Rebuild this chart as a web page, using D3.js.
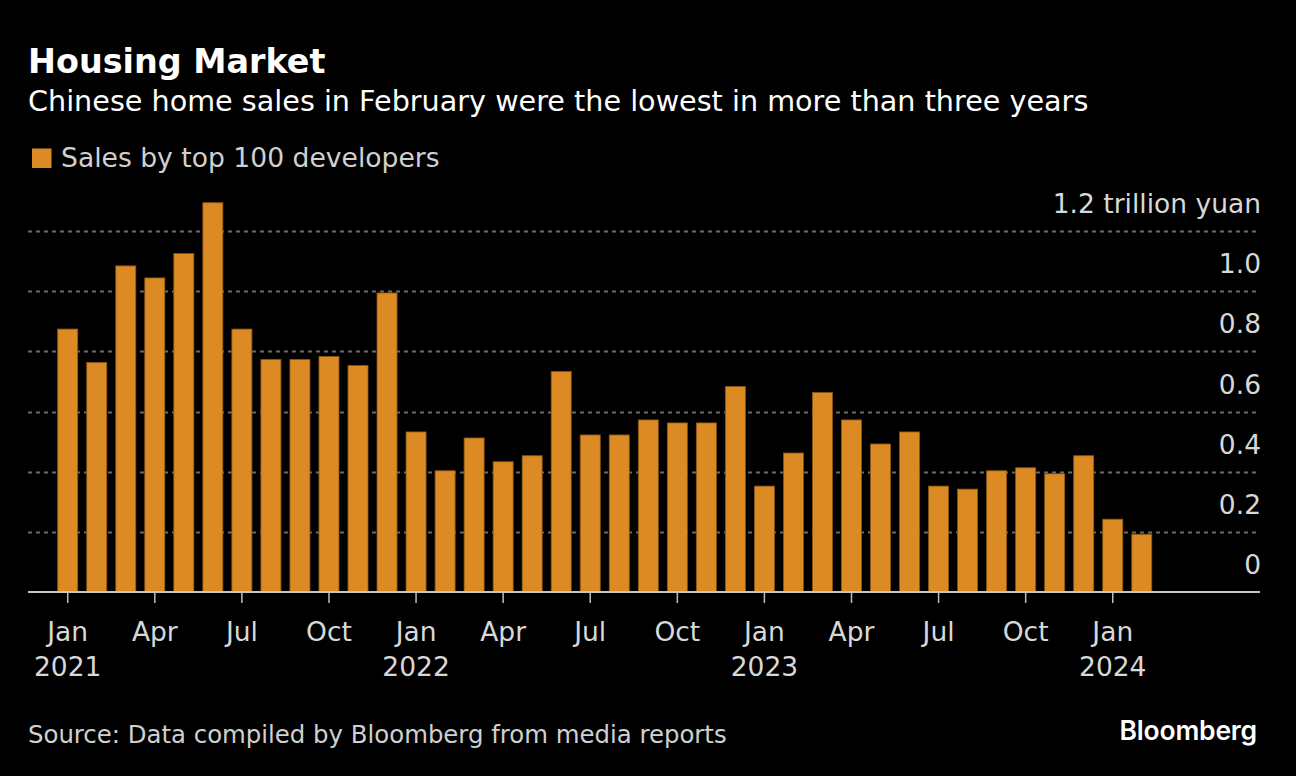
<!DOCTYPE html>
<html>
<head>
<meta charset="utf-8">
<script src="https://cdn.jsdelivr.net/npm/d3@7"></script>
<style>
  html, body { margin: 0; padding: 0; background: #000; }
  svg { display: block; font-family: "DejaVu Sans", sans-serif; }
</style>
</head>
<body>
<svg id="chart" width="1296" height="776"></svg>
<script>
// ---- Data ----
const months = [
  "2021-01","2021-02","2021-03","2021-04","2021-05","2021-06","2021-07","2021-08","2021-09","2021-10","2021-11","2021-12",
  "2022-01","2022-02","2022-03","2022-04","2022-05","2022-06","2022-07","2022-08","2022-09","2022-10","2022-11","2022-12",
  "2023-01","2023-02","2023-03","2023-04","2023-05","2023-06","2023-07","2023-08","2023-09","2023-10","2023-11","2023-12",
  "2024-01","2024-02"
];
// Sales by top 100 developers, trillion yuan
const sales = [
  0.874, 0.763, 1.084, 1.044, 1.125, 1.294, 0.874, 0.773, 0.773, 0.783, 0.753, 0.994,
  0.532, 0.403, 0.512, 0.433, 0.453, 0.733, 0.522, 0.522, 0.572, 0.562, 0.562, 0.683,
  0.352, 0.462, 0.663, 0.572, 0.492, 0.532, 0.352, 0.342, 0.403, 0.413, 0.393, 0.453,
  0.242, 0.192
];
const yTicks = [0, 0.2, 0.4, 0.6, 0.8, 1.0, 1.2];
const yTickLabels = ["0", "0.2", "0.4", "0.6", "0.8", "1.0", "1.2 trillion yuan"];
const xTickMonths = ["2021-01","2021-04","2021-07","2021-10","2022-01","2022-04","2022-07","2022-10",
                     "2023-01","2023-04","2023-07","2023-10","2024-01"];
const monthNames = ["Jan","Feb","Mar","Apr","May","Jun","Jul","Aug","Sep","Oct","Nov","Dec"];

const title = "Housing Market";
const subtitle = "Chinese home sales in February were the lowest in more than three years";
const legendLabel = "Sales by top 100 developers";
const source = "Source: Data compiled by Bloomberg from media reports";

// ---- Layout ----
const W = 1296, H = 776;
const plotLeft = 28, plotRight = 1260;
const baseY = 592, topY = 231;
const barColor = "#db8a24";

const svg = d3.select("#chart");
svg.append("rect").attr("width", W).attr("height", H).attr("fill", "#000");

const x = d3.scaleBand()
  .domain(months)
  .range([53.2, 1156.3])
  .paddingInner(0.31)
  .paddingOuter(0.155);

const y = d3.scaleLinear().domain([0, 1.2]).range([baseY, topY]);

// Titles
svg.append("text").attr("x", 28).attr("y", 73)
  .attr("fill", "#fff").attr("font-weight", "bold").attr("font-size", 33.4)
  .text(title);
svg.append("text").attr("x", 28).attr("y", 111)
  .attr("fill", "#fff").attr("font-size", 28.65)
  .text(subtitle);

// Legend
svg.append("rect").attr("x", 32).attr("y", 148.5).attr("width", 19.5).attr("height", 19.5)
  .attr("fill", barColor);
svg.append("text").attr("x", 61).attr("y", 167)
  .attr("fill", "#d0d0d0").attr("font-size", 26.6)
  .text(legendLabel);

// Gridlines
const gridG = svg.append("g");
gridG.selectAll("line").data(yTicks.filter(d => d > 0)).join("line")
  .attr("x1", plotLeft).attr("x2", 1258)
  .attr("y1", d => Math.round(y(d)) + 0.5).attr("y2", d => Math.round(y(d)) + 0.5)
  .attr("stroke", "#6a6a6a").attr("stroke-width", 2)
  .attr("stroke-dasharray", "4,4");

// Bars
svg.append("g").selectAll("rect").data(months).join("rect")
  .attr("x", d => x(d))
  .attr("width", x.bandwidth())
  .attr("y", (d, i) => y(sales[i]))
  .attr("height", (d, i) => y(0) - y(sales[i]))
  .attr("fill", barColor)
  .attr("stroke", "#8c5714")
  .attr("stroke-width", 0.8);

// Y tick labels
svg.append("g").selectAll("text").data(yTicks).join("text")
  .attr("x", plotRight + 1)
  .attr("y", d => y(d) - 18)
  .attr("text-anchor", "end")
  .attr("fill", "#d8d8d8").attr("font-size", 26.5)
  .text((d, i) => yTickLabels[i]);

// X axis
const xAxis = d3.axisBottom(x)
  .tickValues(xTickMonths)
  .tickSize(11)
  .tickSizeOuter(0)
  .tickFormat(d => monthNames[+d.slice(5, 7) - 1]);

const axG = svg.append("g").attr("transform", `translate(0,${baseY})`).call(xAxis);
axG.select(".domain").remove();
axG.selectAll(".tick line").attr("stroke", "#bdbdbd").attr("stroke-width", 1.5);
axG.selectAll(".tick text")
  .attr("fill", "#d8d8d8").attr("font-size", 26.5)
  .attr("font-family", "DejaVu Sans, sans-serif")
  .attr("y", 49).attr("dy", 0)
  .each(function(d) {
    if (d.slice(5, 7) === "01") {
      d3.select(this).append("tspan")
        .attr("x", 0).attr("dy", 35)
        .text(d.slice(0, 4));
    }
  });
svg.append("line")
  .attr("x1", plotLeft).attr("x2", plotRight)
  .attr("y1", baseY).attr("y2", baseY)
  .attr("stroke", "#c4c4c4").attr("stroke-width", 2);

// Footer
svg.append("text").attr("x", 28).attr("y", 743)
  .attr("fill", "#d0d0d0").attr("font-size", 24.4)
  .text(source);
svg.append("text").attr("x", 1257).attr("y", 740).attr("text-anchor", "end")
  .attr("fill", "#fff").attr("font-family", "Inter, sans-serif")
  .attr("font-weight", 600).attr("font-size", 26.5)
  .attr("letter-spacing", -0.2)
  .text("Bloomberg");
</script>
</body>
</html>
